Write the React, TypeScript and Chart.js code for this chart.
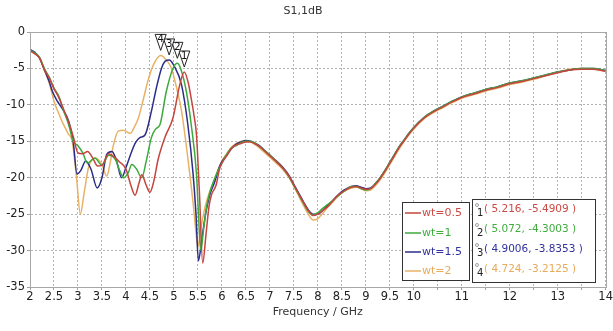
import React, { useEffect, useRef } from 'react';
import { Chart, registerables } from 'chart.js';

Chart.register(...registerables);

const FONT = '"DejaVu Sans", Verdana, sans-serif';

const seriesLabels = ['wt=0.5', 'wt=1', 'wt=1.5', 'wt=2'];
const lineColors = ['#c4453f', '#3daa3d', '#2c2c8a', '#e8b266'];
const textColors = ['#cc4a44', '#3fae3f', '#3232a0', '#e8aa5c'];

// ---- head sections (2 - 6 GHz), each series
const freqRed = [2.0, 2.1, 2.2, 2.3, 2.4, 2.5, 2.6, 2.7, 2.8, 2.9, 3.0, 3.1, 3.2, 3.3, 3.41, 3.5, 3.64, 3.75, 3.86, 4.0, 4.1, 4.19, 4.27, 4.33, 4.42, 4.5, 4.58, 4.67, 4.81, 4.98, 5.12, 5.216, 5.3, 5.36, 5.42, 5.47, 5.53, 5.6, 5.67, 5.73, 5.78, 5.88, 5.95, 6.0];
const s11Red = [-2.6, -3.0, -3.6, -5.2, -6.3, -7.8, -9.0, -10.6, -12.3, -14.3, -16.6, -16.7, -16.4, -17.2, -18.4, -18.3, -16.7, -17.1, -17.8, -18.8, -21.0, -22.4, -20.8, -19.6, -21.0, -22.0, -20.5, -17.5, -14.5, -11.8, -7.3, -5.49, -7.0, -9.1, -11.5, -14.1, -21.8, -31.7, -27.7, -24.0, -22.4, -21.0, -18.8, -18.0];

const freqGreen = [2.0, 2.1, 2.2, 2.3, 2.4, 2.5, 2.6, 2.7, 2.8, 2.9, 3.0, 3.1, 3.2, 3.35, 3.5, 3.64, 3.78, 3.88, 3.95, 4.05, 4.12, 4.22, 4.33, 4.42, 4.53, 4.62, 4.71, 4.84, 4.98, 5.072, 5.15, 5.26, 5.36, 5.47, 5.53, 5.56, 5.62, 5.68, 5.75, 5.82, 5.9, 6.0];
const s11Green = [-2.5, -2.9, -3.5, -5.0, -6.2, -7.7, -8.8, -10.8, -12.6, -15.0, -15.6, -16.6, -18.0, -17.3, -18.3, -16.9, -17.5, -19.2, -20.0, -19.3, -18.2, -18.8, -20.0, -17.8, -14.5, -13.3, -12.7, -8.2, -5.0, -4.3, -5.2, -8.2, -12.7, -19.5, -27.5, -30.0, -27.0, -24.0, -22.0, -20.6, -19.3, -18.0];

const freqBlue = [2.0, 2.1, 2.2, 2.3, 2.4, 2.47, 2.57, 2.67, 2.81, 2.9, 2.98, 3.06, 3.16, 3.27, 3.4, 3.5, 3.6, 3.71, 3.8, 3.91, 4.0, 4.12, 4.2, 4.29, 4.4, 4.53, 4.63, 4.74, 4.82, 4.9006, 5.0, 5.16, 5.29, 5.4, 5.46, 5.51, 5.58, 5.66, 5.75, 5.85, 5.93, 6.0];
const s11Blue = [-2.4, -2.8, -3.6, -5.2, -6.8, -8.2, -9.5, -10.5, -12.3, -15.0, -19.5, -19.0, -17.7, -18.8, -21.4, -20.0, -16.8, -16.4, -17.6, -20.0, -18.6, -16.4, -15.2, -14.5, -14.1, -10.9, -7.8, -5.0, -4.0, -3.84, -4.6, -7.3, -12.7, -19.5, -25.0, -31.4, -28.5, -25.0, -22.3, -20.6, -18.8, -17.8];

const freqOrange = [2.0, 2.1, 2.2, 2.3, 2.4, 2.5, 2.6, 2.67, 2.8, 2.88, 2.97, 3.05, 3.13, 3.22, 3.36, 3.5, 3.6, 3.67, 3.74, 3.84, 3.95, 4.09, 4.18, 4.26, 4.36, 4.47, 4.58, 4.724, 4.85, 4.95, 5.05, 5.16, 5.29, 5.4, 5.46, 5.5, 5.56, 5.65, 5.75, 5.85, 5.93, 6.0];
const s11Orange = [-2.5, -2.9, -3.6, -5.2, -7.0, -9.5, -11.2, -12.3, -14.0, -15.0, -20.0, -25.0, -22.0, -18.6, -17.3, -18.2, -19.8, -18.0, -15.5, -13.6, -13.5, -13.9, -13.0, -11.8, -9.3, -6.4, -4.4, -3.21, -3.9, -5.0, -7.5, -10.9, -17.3, -23.5, -27.5, -29.5, -27.0, -24.0, -21.8, -20.2, -18.8, -17.7];

// ---- tail section (6.1 - 14 GHz), shared frequencies
const freqTail = [6.1, 6.2, 6.3, 6.4, 6.5, 6.6, 6.7, 6.8, 6.9, 7.0, 7.1, 7.2, 7.3, 7.4, 7.5, 7.6, 7.7, 7.8, 7.9, 8.0, 8.1, 8.2, 8.3, 8.4, 8.5, 8.6, 8.7, 8.8, 8.9, 9.0, 9.1, 9.2, 9.3, 9.4, 9.5, 9.6, 9.7, 9.8, 9.9, 10.0, 10.2, 10.4, 10.6, 10.8, 11.0, 11.25, 11.5, 11.75, 12.0, 12.25, 12.5, 12.75, 13.0, 13.25, 13.5, 13.75, 14.0];
const tailRed = [-17.0, -16.0, -15.5, -15.3, -15.1, -15.1, -15.4, -15.8, -16.4, -17.0, -17.6, -18.2, -18.9, -19.8, -21.0, -22.2, -23.4, -24.5, -25.2, -25.0, -24.5, -24.0, -23.3, -22.5, -22.0, -21.6, -21.3, -21.2, -21.4, -21.6, -21.5, -20.9, -20.1, -19.1, -18.0, -16.9, -15.8, -14.9, -14.0, -13.2, -11.9, -11.0, -10.3, -9.6, -9.0, -8.5, -8.0, -7.6, -7.1, -6.8, -6.4, -6.0, -5.6, -5.2, -5.1, -5.1, -5.4];
const tailGreen = [-16.8, -15.9, -15.6, -15.2, -15.0, -15.0, -15.3, -15.8, -16.3, -16.9, -17.5, -18.2, -18.9, -19.9, -21.1, -22.3, -23.5, -24.6, -25.1, -24.8, -24.2, -23.7, -23.2, -22.6, -22.1, -21.6, -21.2, -21.2, -21.5, -21.7, -21.5, -20.8, -20.0, -19.0, -17.9, -16.8, -15.7, -14.8, -13.9, -13.1, -11.8, -10.9, -10.2, -9.5, -8.9, -8.4, -7.9, -7.5, -7.0, -6.7, -6.3, -5.9, -5.5, -5.2, -5.0, -5.0, -5.3];
const tailBlue = [-16.9, -16.0, -15.4, -15.1, -14.9, -15.0, -15.3, -15.7, -16.3, -16.9, -17.5, -18.1, -18.8, -19.7, -20.9, -22.1, -23.3, -24.4, -25.0, -25.0, -24.5, -23.8, -23.2, -22.5, -21.9, -21.5, -21.2, -21.1, -21.3, -21.5, -21.4, -20.8, -20.0, -19.0, -17.9, -16.8, -15.7, -14.8, -13.9, -13.1, -11.8, -10.9, -10.2, -9.5, -8.9, -8.4, -7.9, -7.5, -7.0, -6.7, -6.3, -5.9, -5.5, -5.2, -5.0, -5.0, -5.3];
const tailOrange = [-16.7, -15.8, -15.3, -15.0, -14.9, -15.1, -15.5, -16.0, -16.6, -17.2, -17.8, -18.4, -19.1, -20.0, -21.2, -22.5, -23.8, -25.0, -25.8, -25.6, -24.9, -24.1, -23.4, -22.7, -22.1, -21.7, -21.4, -21.3, -21.5, -21.8, -21.7, -21.1, -20.3, -19.3, -18.2, -17.1, -16.0, -15.0, -14.1, -13.3, -12.0, -11.1, -10.4, -9.7, -9.1, -8.6, -8.1, -7.7, -7.2, -6.9, -6.5, -6.0, -5.5, -5.1, -5.0, -5.1, -5.4];

// ---- markers
const markerIds = ['1', '2', '3', '4'];
const markerFreq = [5.216, 5.072, 4.9006, 4.724];
const markerVal = [-5.4909, -4.3003, -3.8353, -3.2125];
const markerText = ['( 5.216, -5.4909 )', '( 5.072, -4.3003 )', '( 4.9006, -3.8353 )', '( 4.724, -3.2125 )'];

const yTicks = [0, -5, -10, -15, -20, -25, -30, -35];

const heads = [
  [freqRed, s11Red, tailRed],
  [freqGreen, s11Green, tailGreen],
  [freqBlue, s11Blue, tailBlue],
  [freqOrange, s11Orange, tailOrange],
];

function buildPoints(fx: number[], fy: number[], ty: number[]) {
  const pts: { x: number; y: number }[] = [];
  for (let i = 0; i < Math.min(fx.length, fy.length); i++) pts.push({ x: fx[i], y: fy[i] });
  for (let i = 0; i < Math.min(freqTail.length, ty.length); i++) pts.push({ x: freqTail[i], y: ty[i] });
  return pts;
}

const overlayPlugin = {
  id: 'overlay',
  afterDatasetsDraw(chart: any) {
    const { ctx, chartArea, scales } = chart;
    ctx.save();
    // plot frame
    ctx.strokeStyle = '#a8a8a8';
    ctx.lineWidth = 1;
    ctx.strokeRect(Math.round(chartArea.left) + 0.5, Math.round(chartArea.top) + 0.5,
      Math.round(chartArea.right - chartArea.left), Math.round(chartArea.bottom - chartArea.top));

    // marker triangles
    ctx.font = `10px ${FONT}`;
    ctx.textAlign = 'center';
    ctx.textBaseline = 'middle';
    for (let i = 0; i < markerFreq.length; i++) {
      const px = scales.x.getPixelForValue(markerFreq[i]);
      const py = scales.y.getPixelForValue(markerVal[i]);
      const tipY = py - 5;
      const topY = tipY - 16;
      ctx.beginPath();
      ctx.moveTo(px - 5.5, topY);
      ctx.lineTo(px + 5.5, topY);
      ctx.lineTo(px, tipY);
      ctx.closePath();
      ctx.fillStyle = 'rgba(255,255,255,0.85)';
      ctx.fill();
      ctx.strokeStyle = '#222';
      ctx.lineWidth = 1;
      ctx.stroke();
      ctx.fillStyle = '#111';
      ctx.fillText(markerIds[i], px, topY + 5.5);
    }

    // legend box
    const lx = 402, ly = 202, lw = 67, lh = 78;
    ctx.fillStyle = '#fff';
    ctx.fillRect(lx, ly, lw, lh);
    ctx.strokeStyle = '#333';
    ctx.strokeRect(lx + 0.5, ly + 0.5, lw, lh);
    ctx.font = `11px ${FONT}`;
    ctx.textAlign = 'left';
    ctx.textBaseline = 'middle';
    const rows = [213, 233, 252, 271];
    for (let i = 0; i < seriesLabels.length; i++) {
      ctx.strokeStyle = lineColors[i];
      ctx.lineWidth = 1.5;
      ctx.beginPath();
      ctx.moveTo(405, rows[i]);
      ctx.lineTo(421, rows[i]);
      ctx.stroke();
      ctx.fillStyle = textColors[i];
      ctx.fillText(seriesLabels[i], 422, rows[i]);
    }

    // marker table box
    const mx = 472, my = 199, mw = 123, mh = 83;
    ctx.fillStyle = '#fff';
    ctx.fillRect(mx, my, mw, mh);
    ctx.strokeStyle = '#333';
    ctx.lineWidth = 1;
    ctx.strokeRect(mx + 0.5, my + 0.5, mw, mh);
    const mrows = [209, 229, 249, 269];
    for (let i = 0; i < markerText.length; i++) {
      ctx.strokeStyle = '#888';
      ctx.lineWidth = 0.8;
      ctx.beginPath();
      ctx.arc(477, mrows[i] - 4, 1.5, 0, Math.PI * 2);
      ctx.stroke();
      ctx.fillStyle = '#222';
      ctx.font = `10px ${FONT}`;
      ctx.fillText(markerIds[i], 477, mrows[i] + 4);
      ctx.fillStyle = textColors[i];
      ctx.font = `10.5px ${FONT}`;
      ctx.fillText(markerText[i], 484, mrows[i]);
    }
    ctx.restore();
  },
};

export default function App() {
  const ref = useRef<HTMLCanvasElement | null>(null);
  useEffect(() => {
    document.body.style.margin = '0';
    const canvas = ref.current;
    if (!canvas) return;
    Chart.defaults.font.family = FONT;
    const chart = new Chart(canvas, {
      type: 'line',
      data: {
        datasets: heads.map((h, i) => ({
          label: seriesLabels[i],
          data: buildPoints(h[0], h[1], h[2]),
          borderColor: lineColors[i],
          backgroundColor: lineColors[i],
          borderWidth: 1.5,
          pointRadius: 0,
          fill: false,
          cubicInterpolationMode: 'monotone' as const,
        })),
      },
      options: {
        animation: false,
        responsive: false,
        devicePixelRatio: 1,
        layout: { padding: { left: 0, right: 7, top: 0, bottom: 0 } },
        plugins: {
          legend: { display: false },
          tooltip: { enabled: false },
          title: {
            display: true,
            text: 'S1,1dB',
            color: '#333',
            font: { family: FONT, size: 11, weight: 'normal' },
            padding: { top: 5, bottom: 13.8 },
          },
        },
        scales: {
          x: {
            type: 'linear',
            min: 2,
            max: 14,
            afterBuildTicks: (scale: any) => {
              const t = [];
              for (let k = 0; k <= 24; k++) t.push({ value: 2 + k * 0.5 });
              scale.ticks = t;
            },
            afterFit: (scale: any) => { scale.height = 44; },
            ticks: {
              autoSkip: false,
              maxRotation: 0,
              padding: 0,
              color: '#222',
              font: { family: FONT, size: 11.5 },
              callback: (v: any) => (v > 10 && v % 1 !== 0 ? '' : String(v)),
            },
            grid: { color: '#b4b4b4', lineWidth: 1, tickLength: 3, tickColor: '#a0a0a0' },
            border: { display: true, color: '#a0a0a0', dash: [2, 2] },
            title: {
              display: true,
              text: 'Frequency / GHz',
              color: '#333',
              font: { family: FONT, size: 11 },
              padding: { top: 0, bottom: 12.4 },
            },
          },
          y: {
            type: 'linear',
            min: -35,
            max: 0,
            afterBuildTicks: (scale: any) => { scale.ticks = yTicks.map((v) => ({ value: v })); },
            afterFit: (scale: any) => { scale.width = 30; },
            ticks: {
              padding: 2,
              color: '#222',
              font: { family: FONT, size: 11.5 },
            },
            grid: { color: '#b4b4b4', lineWidth: 1, tickLength: 3, tickColor: '#a0a0a0' },
            border: { display: true, color: '#a0a0a0', dash: [2, 2] },
          },
        },
      },
      plugins: [overlayPlugin],
    });
    return () => chart.destroy();
  }, []);
  return (
    <div style={{ width: 613, height: 331, background: '#fff' }}>
      <canvas ref={ref} width={613} height={331} style={{ display: 'block' }} />
    </div>
  );
}
